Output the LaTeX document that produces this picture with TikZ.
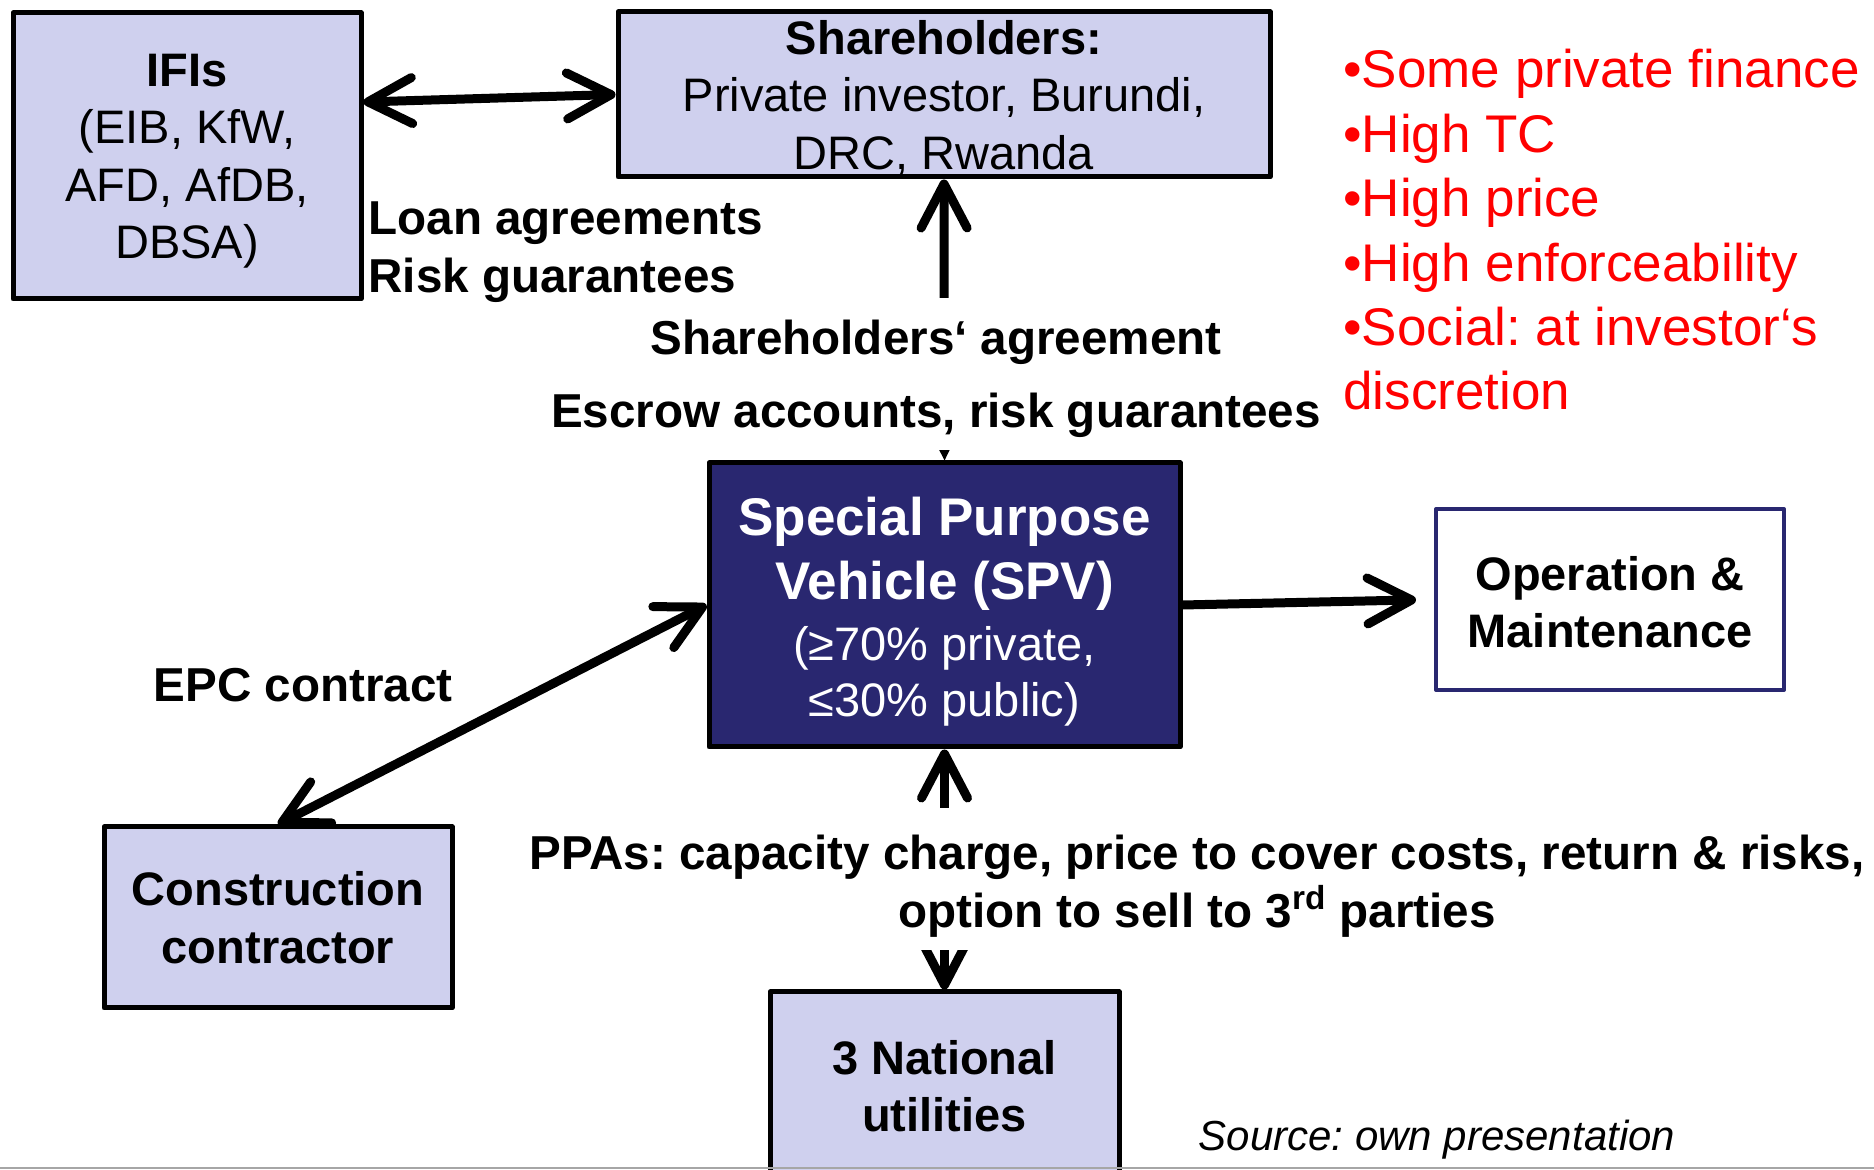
\documentclass[tikz,border=0pt]{standalone}
\usepackage{fontspec}
\setmainfont{Liberation Sans}
\usetikzlibrary{arrows.meta}
\definecolor{boxfill}{RGB}{207,208,238}
\definecolor{spvblue}{RGB}{41,39,112}
\frenchspacing

\begin{document}
\begin{tikzpicture}[>={Straight Barb[length=22bp,width=23bp,round]},line join=round,
  box/.style={draw=black,line width=2.5bp,fill=boxfill,align=center,inner sep=0pt,font=\fontsize{23.5bp}{28.75bp}\selectfont},
  lbl/.style={align=center,inner sep=0pt,font=\fontsize{23.8bp}{28.75bp}\selectfont\bfseries},
  link/.style={line width=4.5bp}]
%%
\useasboundingbox (0bp,0bp) rectangle (937bp,585bp);
\clip (0bp,0bp) rectangle (937bp,585bp);
\node (node_ifis) at (93.5bp,507bp) [box,minimum width=174bp,minimum height=143bp] {\rule{0pt}{21.4bp}\textbf{IFIs}\\(EIB, KfW,\\AFD, AfDB,\\DBSA)};
  \node (node_share) at (472bp,537.75bp) [box,minimum width=326bp,minimum height=82.5bp] {\rule{0pt}{20.4bp}\textbf{Shareholders:}\\Private investor, Burundi,\\DRC, Rwanda};
  \node (node_spv) at (472.25bp,282.5bp) [box,fill=spvblue,text=white,minimum width=235.5bp,minimum height=142bp] {\rule{0pt}{25.5bp}\fontsize{26.5bp}{32bp}\selectfont\bfseries Special Purpose\\[3.25bp]\fontsize{26.5bp}{32bp}\selectfont\bfseries Vehicle (SPV)\\[1.75bp]\fontsize{23.5bp}{28bp}\selectfont\mdseries (≥70\% private,\\[-0.75bp]\fontsize{23.5bp}{28bp}\selectfont\mdseries ≤30\% public)};
  \node (node_om) at (805bp,285.25bp) [box,fill=white,draw=spvblue,line width=2bp,minimum width=174bp,minimum height=90.5bp] {\rule{0pt}{19.8bp}\textbf{Operation \&}\\\textbf{Maintenance}};
  \node (node_cons) at (139bp,126.25bp) [box,minimum width=174bp,minimum height=90.5bp] {\textbf{Construction}\\\textbf{contractor}};
  \node (node_util) at (472.25bp,42bp) [box,minimum width=174.5bp,minimum height=94bp] {\textbf{3 National}\\\textbf{utilities}};
  \draw [link,<->] (node_ifis.17) -- (node_share.west);
  \draw [link,{Triangle[length=7bp,width=7bp,line width=0bp]}->] (node_spv.north) -- (node_share.south);
  \draw [link,->,shorten >=9bp] (node_spv.east) -- (node_om.west);
  \draw [link,<->] (node_cons.north) -- (node_spv.west);
  \draw [link,<->] (node_spv.south) -- (node_util.north);
  \node (lbl_loan) at (184bp,458.85bp) [lbl,anchor=west,align=left] {Loan agreements\\Risk guarantees};
  \node (lbl_share) at (468bp,398bp) [lbl,fill=white,inner xsep=2bp,minimum height=76bp] {\rule{0pt}{22.5bp}Shareholders‘ agreement\\[7.75bp]Escrow accounts, risk guarantees};
  \node (lbl_epc) at (151.5bp,242.5bp) [lbl] {EPC contract};
  \node (lbl_ppa) at (598.5bp,145.5bp) [lbl,fill=white,inner xsep=2bp,minimum height=71bp] {\rule{0pt}{24.4bp}PPAs: capacity charge, price to cover costs, return \& risks,\\option to sell to 3\textsuperscript{rd} parties};
  \node (lbl_notes) at (671.5bp,470bp) [anchor=west,align=left,inner sep=0pt,text=red,font=\fontsize{26.5bp}{32.2bp}\selectfont] {•Some private finance\\•High TC\\•High price\\•High enforceability\\•Social: at investor‘s\\discretion};
  \node (lbl_source) at (718.5bp,15.1bp) [inner sep=0pt,font=\fontsize{21bp}{25bp}\selectfont\itshape] {Source: own presentation};
  \draw [black!35,line width=1bp] (0bp,1bp) -- (937bp,1bp);
%
\end{tikzpicture}
\end{document}
